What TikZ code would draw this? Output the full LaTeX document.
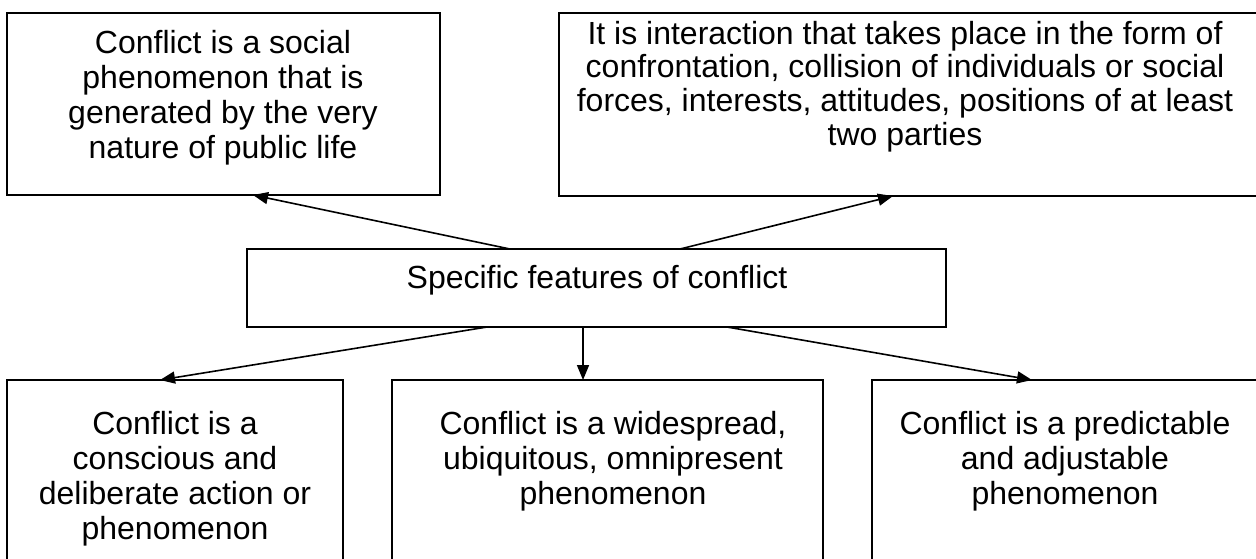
\documentclass[tikz,border=0pt]{standalone}
\usepackage{fontspec}
\setmainfont{Liberation Sans}
\usetikzlibrary{arrows.meta}
\newcommand{\boxtext}[4]{\begin{minipage}[t]{#1}\centering\fontsize{#3}{#4}\selectfont #2\end{minipage}}
\begin{document}
\begin{tikzpicture}[x=1pt,y=-1pt,
  box/.style={draw, line width=1.6pt, inner sep=0pt, outer sep=0pt, anchor=north west},
  txt/.style={inner sep=0pt, outer sep=0pt, anchor=base},
  arr/.style={line width=1.6pt, -{Triangle[length=15pt,width=12pt]}}]
\useasboundingbox (0,0) rectangle (1256,558);
\clip (0,0) rectangle (1256,558);
% boxes
\node[box, minimum width=433pt, minimum height=182pt] (tl) at (7,13) {};
\node[box, minimum width=699pt, minimum height=183pt] (tr) at (559,13) {};
\node[box, minimum width=699pt, minimum height=78pt] (mid) at (247,249) {};
\node[box, minimum width=336pt, minimum height=200pt] (bl) at (7,380) {};
\node[box, minimum width=431pt, minimum height=200pt] (bm) at (392,380) {};
\node[box, minimum width=386pt, minimum height=200pt] (br) at (872,380) {};
% texts
\node[txt] (tlt) at (223,53) {\boxtext{420pt}{Conflict is a social\\phenomenon that is\\generated by the very\\nature of public life}{32}{35}};
\node[txt] (trt) at (905,44) {\boxtext{690pt}{It is interaction that takes place in the form of\\confrontation, collision of individuals or social\\forces, interests, attitudes, positions of at least\\two parties}{32}{33.7}};
\node[txt] (midt) at (597,288) {\boxtext{690pt}{Specific features of conflict}{32}{35}};
\node[txt] (blt) at (175,434) {\boxtext{330pt}{Conflict is a\\conscious and\\deliberate action or\\phenomenon}{32}{35}};
\node[txt] (bmt) at (613,434) {\boxtext{430pt}{Conflict is a widespread,\\ubiquitous, omnipresent\\phenomenon}{32}{35}};
\node[txt] (brt) at (1065,434) {\boxtext{380pt}{Conflict is a predictable\\and adjustable\\phenomenon}{32}{35}};
% connectors
\draw[arr] ([xshift=263pt]mid.north west) -- ([xshift=246pt]tl.south west);
\draw[arr] ([xshift=433pt]mid.north west) -- ([xshift=334pt]tr.south west);
\draw[arr] ([xshift=240pt]mid.south west) -- ([xshift=153pt]bl.north west);
\draw[arr] ([xshift=336pt]mid.south west) -- ([xshift=191pt]bm.north west);
\draw[arr] ([xshift=480pt]mid.south west) -- ([xshift=160pt]br.north west);
\end{tikzpicture}
\end{document}
